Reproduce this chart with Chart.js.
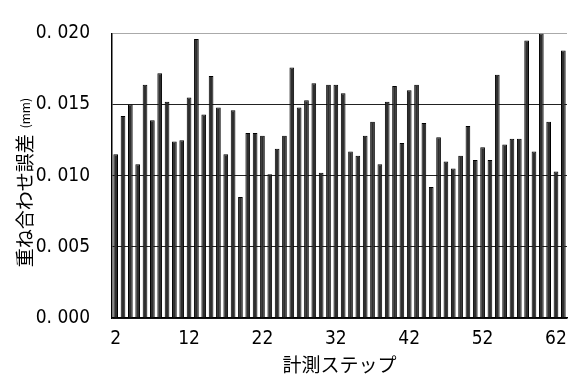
<!DOCTYPE html>
<html>
<head>
<meta charset="utf-8">
<script src="https://cdn.jsdelivr.net/npm/chart.js@4/dist/chart.umd.min.js"></script>
<style>
  html, body { margin: 0; padding: 0; background: #fff; }
  #wrap { width: 576px; height: 376px; position: relative; }
</style>
</head>
<body>
<div id="wrap"><canvas id="c" width="576" height="376"></canvas></div>
<script>
// measurement steps 2..63
const steps = [2,3,4,5,6,7,8,9,10,11,12,13,14,15,16,17,18,19,20,21,22,23,24,25,26,27,28,29,30,31,32,
               33,34,35,36,37,38,39,40,41,42,43,44,45,46,47,48,49,50,51,52,53,54,55,56,57,58,59,60,61,62,63];
// overlay error per step (mm)
const overlayError = [0.0115,0.0142,0.0150,0.0108,0.0164,0.0139,0.0172,0.0152,0.0124,0.0125,
                      0.0155,0.0196,0.0143,0.0170,0.0148,0.0115,0.0146,0.0085,0.0130,0.0130,
                      0.0128,0.0101,0.0119,0.0128,0.0176,0.0148,0.0153,0.0165,0.0102,0.0164,
                      0.0164,0.0158,0.0117,0.0114,0.0128,0.0138,0.0108,0.0152,0.0163,0.0123,
                      0.0160,0.0164,0.0137,0.0092,0.0127,0.0110,0.0105,0.0114,0.0135,0.0111,
                      0.0120,0.0111,0.0171,0.0122,0.0126,0.0126,0.0195,0.0117,0.0200,0.0138,
                      0.0103,0.0188];
const yTicks = [0, 0.005, 0.010, 0.015, 0.020];
const xTitle = '計測ステップ';
const yTitleMain = '重ね合わせ誤差';
const yTitleUnit = '(mm)';

const numFont = "'Liberation Sans Narrow', 'DejaVu Sans Condensed', 'Liberation Sans', sans-serif";
const cjkFont = "'Noto Sans CJK JP', sans-serif";

// vertical axis title: main text plus a smaller unit, rotated
const yTitlePlugin = {
  id: 'yTitle',
  afterDraw(chart) {
    const ctx = chart.ctx;
    const area = chart.chartArea;
    const cx = 25, cy = (area.top + area.bottom) / 2 + 7;
    ctx.save();
    ctx.translate(cx, cy);
    ctx.rotate(-Math.PI / 2);
    ctx.fillStyle = '#000';
    ctx.textBaseline = 'middle';
    ctx.font = '19px ' + cjkFont;
    const mainW = ctx.measureText(yTitleMain).width;
    ctx.font = '12px ' + cjkFont;
    const unitW = ctx.measureText(yTitleUnit).width;
    const gap = 6;
    const total = mainW + gap + unitW;
    let x = -total / 2;
    ctx.textAlign = 'left';
    ctx.font = '19px ' + cjkFont;
    ctx.fillText(yTitleMain, x, 0);
    x += mainW + gap;
    ctx.font = '12px ' + cjkFont;
    ctx.fillText(yTitleUnit, x, 0);
    ctx.restore();
  }
};

new Chart(document.getElementById('c'), {
  type: 'bar',
  data: {
    labels: steps,
    datasets: [{
      data: overlayError,
      backgroundColor: '#2e2e2e',
      borderColor: '#000',
      borderWidth: 1,
      categoryPercentage: 1.0,
      barPercentage: 0.64
    }]
  },
  plugins: [yTitlePlugin],
  options: {
    responsive: false,
    animation: false,
    layout: { padding: { top: 21, right: 9, left: 0, bottom: 0 } },
    plugins: { legend: { display: false }, tooltip: { enabled: false } },
    scales: {
      x: {
        grid: { display: false, drawTicks: false },
        border: { display: true, color: '#000', width: 1.5 },
        ticks: {
          autoSkip: false, maxRotation: 0, minRotation: 0, padding: 10,
          color: '#000', font: { family: numFont, size: 19 },
          callback: function (v, i) { return i % 10 === 0 ? String(steps[i]) : ''; }
        },
        title: {
          display: true, text: xTitle, color: '#000',
          font: { family: cjkFont, size: 19 }, padding: { top: 0, bottom: 0 }
        },
        afterFit: function (s) { s.height = 58; }
      },
      y: {
        min: 0, max: 0.020,
        afterBuildTicks: function (s) { s.ticks = yTicks.map(v => ({ value: v })); },
        grid: {
          drawTicks: false,
          color: function (ctx) { return ctx.tick && ctx.tick.value === 0.020 ? '#aaa' : '#222'; },
          lineWidth: 1
        },
        border: { display: true, color: '#000', width: 1.5 },
        ticks: {
          padding: 22, color: '#000', font: { family: numFont, size: 19 },
          callback: function (v) { return v.toFixed(3).replace('.', '. '); }
        },
        afterFit: function (s) { s.width = 112; }
      }
    }
  }
});
</script>
</body>
</html>
